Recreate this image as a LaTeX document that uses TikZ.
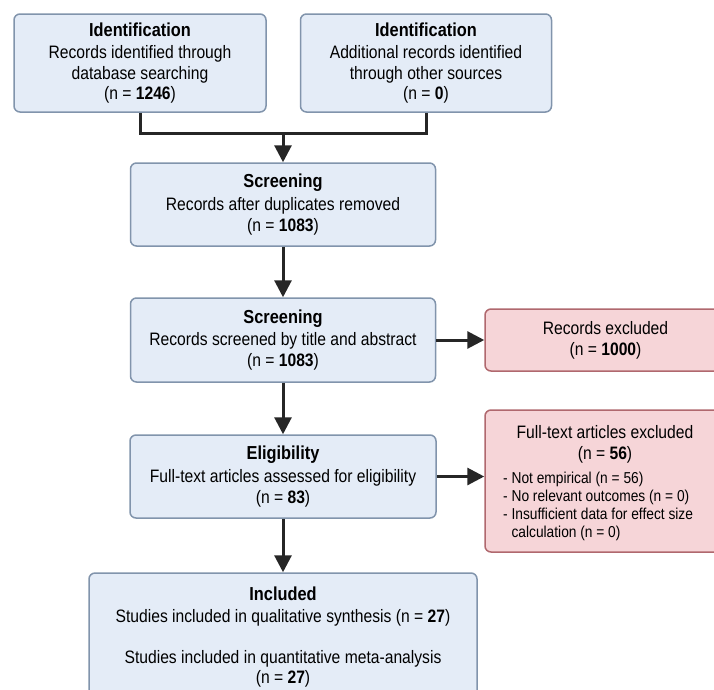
\documentclass[tikz,border=0pt]{standalone}
\usepackage{fontspec}
\setmainfont[FakeStretch=0.87]{Liberation Sans}
\usetikzlibrary{arrows.meta}
\definecolor{bfill}{HTML}{E4ECF7}
\definecolor{bdraw}{HTML}{8194AC}
\definecolor{rfill}{HTML}{F6D5D8}
\definecolor{rdraw}{HTML}{B0686E}
\definecolor{arr}{HTML}{262626}
\newcommand\mainsz{\fontsize{18}{20.8}\selectfont}
\newcommand\listsz{\fontsize{15.8}{18}\selectfont}
\newcommand\ttl[1]{{\fontsize{18.8}{22}\selectfont\bfseries #1}}
\tikzset{
  bluebox/.style={draw=bdraw, fill=bfill, line width=1.5pt, rounded corners=6pt,
    inner sep=0pt, align=center, font=\mainsz, text=black},
  redbox/.style={draw=rdraw, fill=rfill, line width=1.5pt, rounded corners=6pt,
    inner sep=0pt, align=center, font=\mainsz, text=black},
  plain/.style={inner sep=0pt, text=black},
  link/.style={draw=arr, line width=3pt},
  arrow/.style={draw=arr, line width=3pt, -{Triangle[width=17pt,length=17pt]}},
}
\begin{document}
\begin{tikzpicture}[x=1pt,y=-1pt]
\useasboundingbox (0,0) rectangle (714,689);
\clip (0,0) rectangle (714,689);
\fill[white] (0,0) rectangle (714,689);

\node[bluebox, minimum width=252pt, minimum height=98pt] (id1) at (140,63)
  {\ttl{Identification}\\[1.5pt]Records identified through\\database searching\\(n = \textbf{1246})};
\node[bluebox, minimum width=251pt, minimum height=98pt] (id2) at (426,63)
  {\ttl{Identification}\\[1.5pt]Additional records identified\\through other sources\\(n = \textbf{0})};
\node[bluebox, minimum width=305pt, minimum height=83pt] (scr1) at (283,204.5)
  {\ttl{Screening}\\[1.5pt]Records after duplicates removed\\(n = \textbf{1083})};
\node[bluebox, minimum width=305pt, minimum height=84pt] (scr2) at (283,340)
  {\ttl{Screening}\\[1.5pt]Records screened by title and abstract\\(n = \textbf{1083})};
\node[redbox, minimum width=241pt, minimum height=62pt] (exc1) at (605.5,340)
  {Records excluded\\(n = \textbf{1000})};
\node[bluebox, minimum width=306pt, minimum height=83pt] (elig) at (283,476.5)
  {\ttl{Eligibility}\\[1.5pt]Full-text articles assessed for eligibility\\(n = \textbf{83})};
\node[redbox, minimum width=241pt, minimum height=142pt] (exc2) at (605.5,481) {};
\node[plain, align=center, font=\mainsz] (exc2h) at (605,444)
  {Full-text articles excluded\\(n = \textbf{56})};
\node[plain, align=left, font=\listsz, anchor=north west] (exc2l) at (503,472)
  {- Not empirical (n = 56)\\- No relevant outcomes (n = 0)\\- Insufficient data for effect size\\\phantom{- }calculation (n = 0)};
\node[bluebox, minimum width=388pt, minimum height=128pt] (incl) at (283,637)
  {\ttl{Included}\\[1.5pt]Studies included in qualitative synthesis (n = \textbf{27})\\[20pt]Studies included in quantitative meta-analysis\\(n = \textbf{27})};

\coordinate (j) at (283,133);
\draw[link] (id1.south) |- (j) -| (id2.south);
\draw[arrow] (j) -- (scr1.north);
\draw[arrow] (scr1.south) -- (scr2.north);
\draw[arrow] (scr2.east) -- (exc1.west);
\draw[arrow] (scr2.south) -- (elig.north);
\draw[arrow] (elig.east) -- (elig.east -| exc2.west);
\draw[arrow] (elig.south) -- (incl.north);
\end{tikzpicture}
\end{document}
